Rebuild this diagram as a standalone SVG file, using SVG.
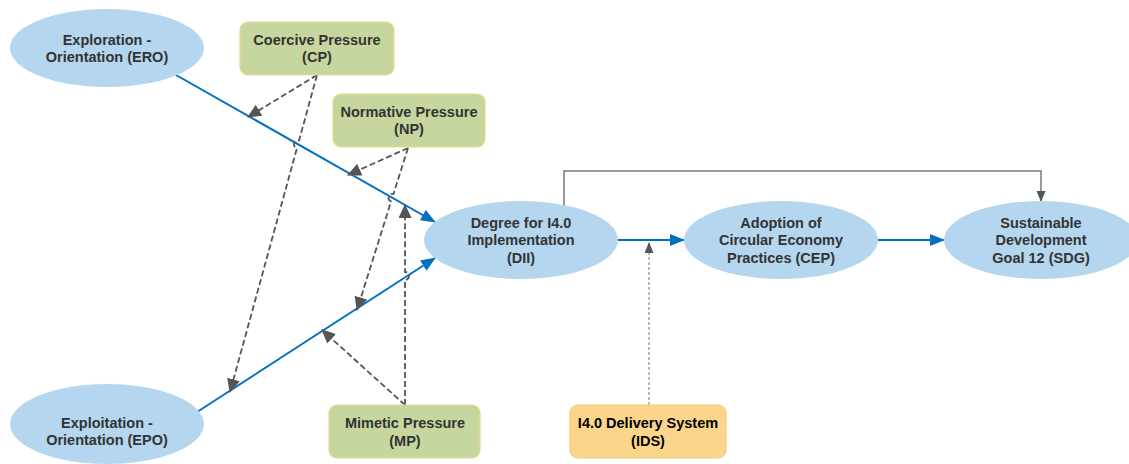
<svg xmlns="http://www.w3.org/2000/svg" width="1129" height="464" viewBox="0 0 1129 464">
  <style>
    .ell { fill: #b4d6ee; stroke: none; }
    .grn { fill: #c5d79e; stroke: #f0d68c; stroke-width: 1.2; }
    .ylw { fill: #fbd58b; stroke: #f3cc7c; stroke-width: 1.2; }
    .t { font-family: "Liberation Sans", Arial, sans-serif; font-size: 14.5px; font-weight: bold; fill: #333333; text-anchor: middle; }
    .tk { fill: #000000; }
    .blue { fill: none; stroke: #0070c0; stroke-width: 2; }
    .dash { fill: none; stroke: #555555; stroke-width: 1.8; stroke-dasharray: 6 3; }
    .dot { fill: none; stroke: #8a8a8a; stroke-width: 1.2; stroke-dasharray: 3 2; }
    .gray { fill: none; stroke: #7a7a7a; stroke-width: 1.5; }
  </style>
  <defs>
    <marker id="ab" markerUnits="userSpaceOnUse" markerWidth="16" markerHeight="12" refX="14" refY="6" orient="auto">
      <path d="M0,0 L15,6 L0,12 z" fill="#0070c0"/>
    </marker>
    <marker id="ad" markerUnits="userSpaceOnUse" markerWidth="16" markerHeight="14" refX="13" refY="6.5" orient="auto">
      <path d="M0,0 L14,6.5 L0,13 z" fill="#555555"/>
    </marker>
    <marker id="ag" markerUnits="userSpaceOnUse" markerWidth="12" markerHeight="10" refX="10" refY="4.5" orient="auto">
      <path d="M0,0 L11,4.5 L0,9 z" fill="#555555"/>
    </marker>
  </defs>

  <g id="connectors">
    <path class="blue" d="M176,75 L435,222" marker-end="url(#ab)"/>
    <path class="blue" d="M194,414 L435,258" marker-end="url(#ab)"/>
    <path class="blue" d="M618,240 L684,240" marker-end="url(#ab)"/>
    <path class="blue" d="M878,240 L944,240" marker-end="url(#ab)"/>
    <path class="gray" d="M564,206 L564,171 L1041,171 L1041,201" marker-end="url(#ag)"/>
    <path class="dot" d="M649,405 L649,243" marker-end="url(#ag)"/>
    <path class="dash" d="M317,75 L248,117" marker-end="url(#ad)"/>
    <path class="dash" d="M317,75 L299.1,140.5 A4,4 0 0 0 296.9,148.3 L230,392" marker-end="url(#ad)"/>
    <path class="dash" d="M408,148 L348,175" marker-end="url(#ad)"/>
    <path class="dash" d="M408,148 L393.5,193.9 A4,4 0 0 0 391.1,201.5 L357,310" marker-end="url(#ad)"/>
    <path class="dash" d="M405,405 L322,330" marker-end="url(#ad)"/>
    <path class="dash" d="M405,405 L405,280 A4,4 0 0 0 405,272 L405,205" marker-end="url(#ad)"/>
  </g>

  <g id="ERO">
    <ellipse class="ell" cx="107" cy="48" rx="97" ry="39"/>
    <text class="t" x="107" y="45">Exploration -</text>
    <text class="t" x="107" y="62">Orientation (ERO)</text>
  </g>
  <g id="EPO">
    <ellipse class="ell" cx="107" cy="424" rx="97" ry="40"/>
    <text class="t" x="107" y="428">Exploitation -</text>
    <text class="t" x="107" y="445">Orientation (EPO)</text>
  </g>
  <g id="CP">
    <rect class="grn" x="240" y="22" width="154" height="53" rx="8"/>
    <text class="t" x="317" y="45">Coercive Pressure</text>
    <text class="t" x="317" y="62">(CP)</text>
  </g>
  <g id="NP">
    <rect class="grn" x="333" y="94" width="152" height="53" rx="8"/>
    <text class="t" x="409" y="117">Normative Pressure</text>
    <text class="t" x="409" y="134">(NP)</text>
  </g>
  <g id="MP">
    <rect class="grn" x="329" y="405" width="151" height="53" rx="8"/>
    <text class="t" x="405" y="428">Mimetic Pressure</text>
    <text class="t" x="405" y="446">(MP)</text>
  </g>
  <g id="IDS">
    <rect class="ylw" x="570" y="405" width="156" height="53" rx="8"/>
    <text class="t tk" x="648" y="428">I4.0 Delivery System</text>
    <text class="t tk" x="648" y="446">(IDS)</text>
  </g>
  <g id="DII">
    <ellipse class="ell" cx="521" cy="240" rx="97" ry="39"/>
    <text class="t" x="521" y="228">Degree for I4.0</text>
    <text class="t" x="521" y="245">Implementation</text>
    <text class="t" x="521" y="263">(DII)</text>
  </g>
  <g id="CEP">
    <ellipse class="ell" cx="781" cy="240" rx="97" ry="39"/>
    <text class="t" x="781" y="228">Adoption of</text>
    <text class="t" x="781" y="245">Circular Economy</text>
    <text class="t" x="781" y="263">Practices (CEP)</text>
  </g>
  <g id="SDG">
    <ellipse class="ell" cx="1041" cy="240" rx="97" ry="39"/>
    <text class="t" x="1041" y="228">Sustainable</text>
    <text class="t" x="1041" y="245">Development</text>
    <text class="t" x="1041" y="263">Goal 12 (SDG)</text>
  </g>
</svg>
